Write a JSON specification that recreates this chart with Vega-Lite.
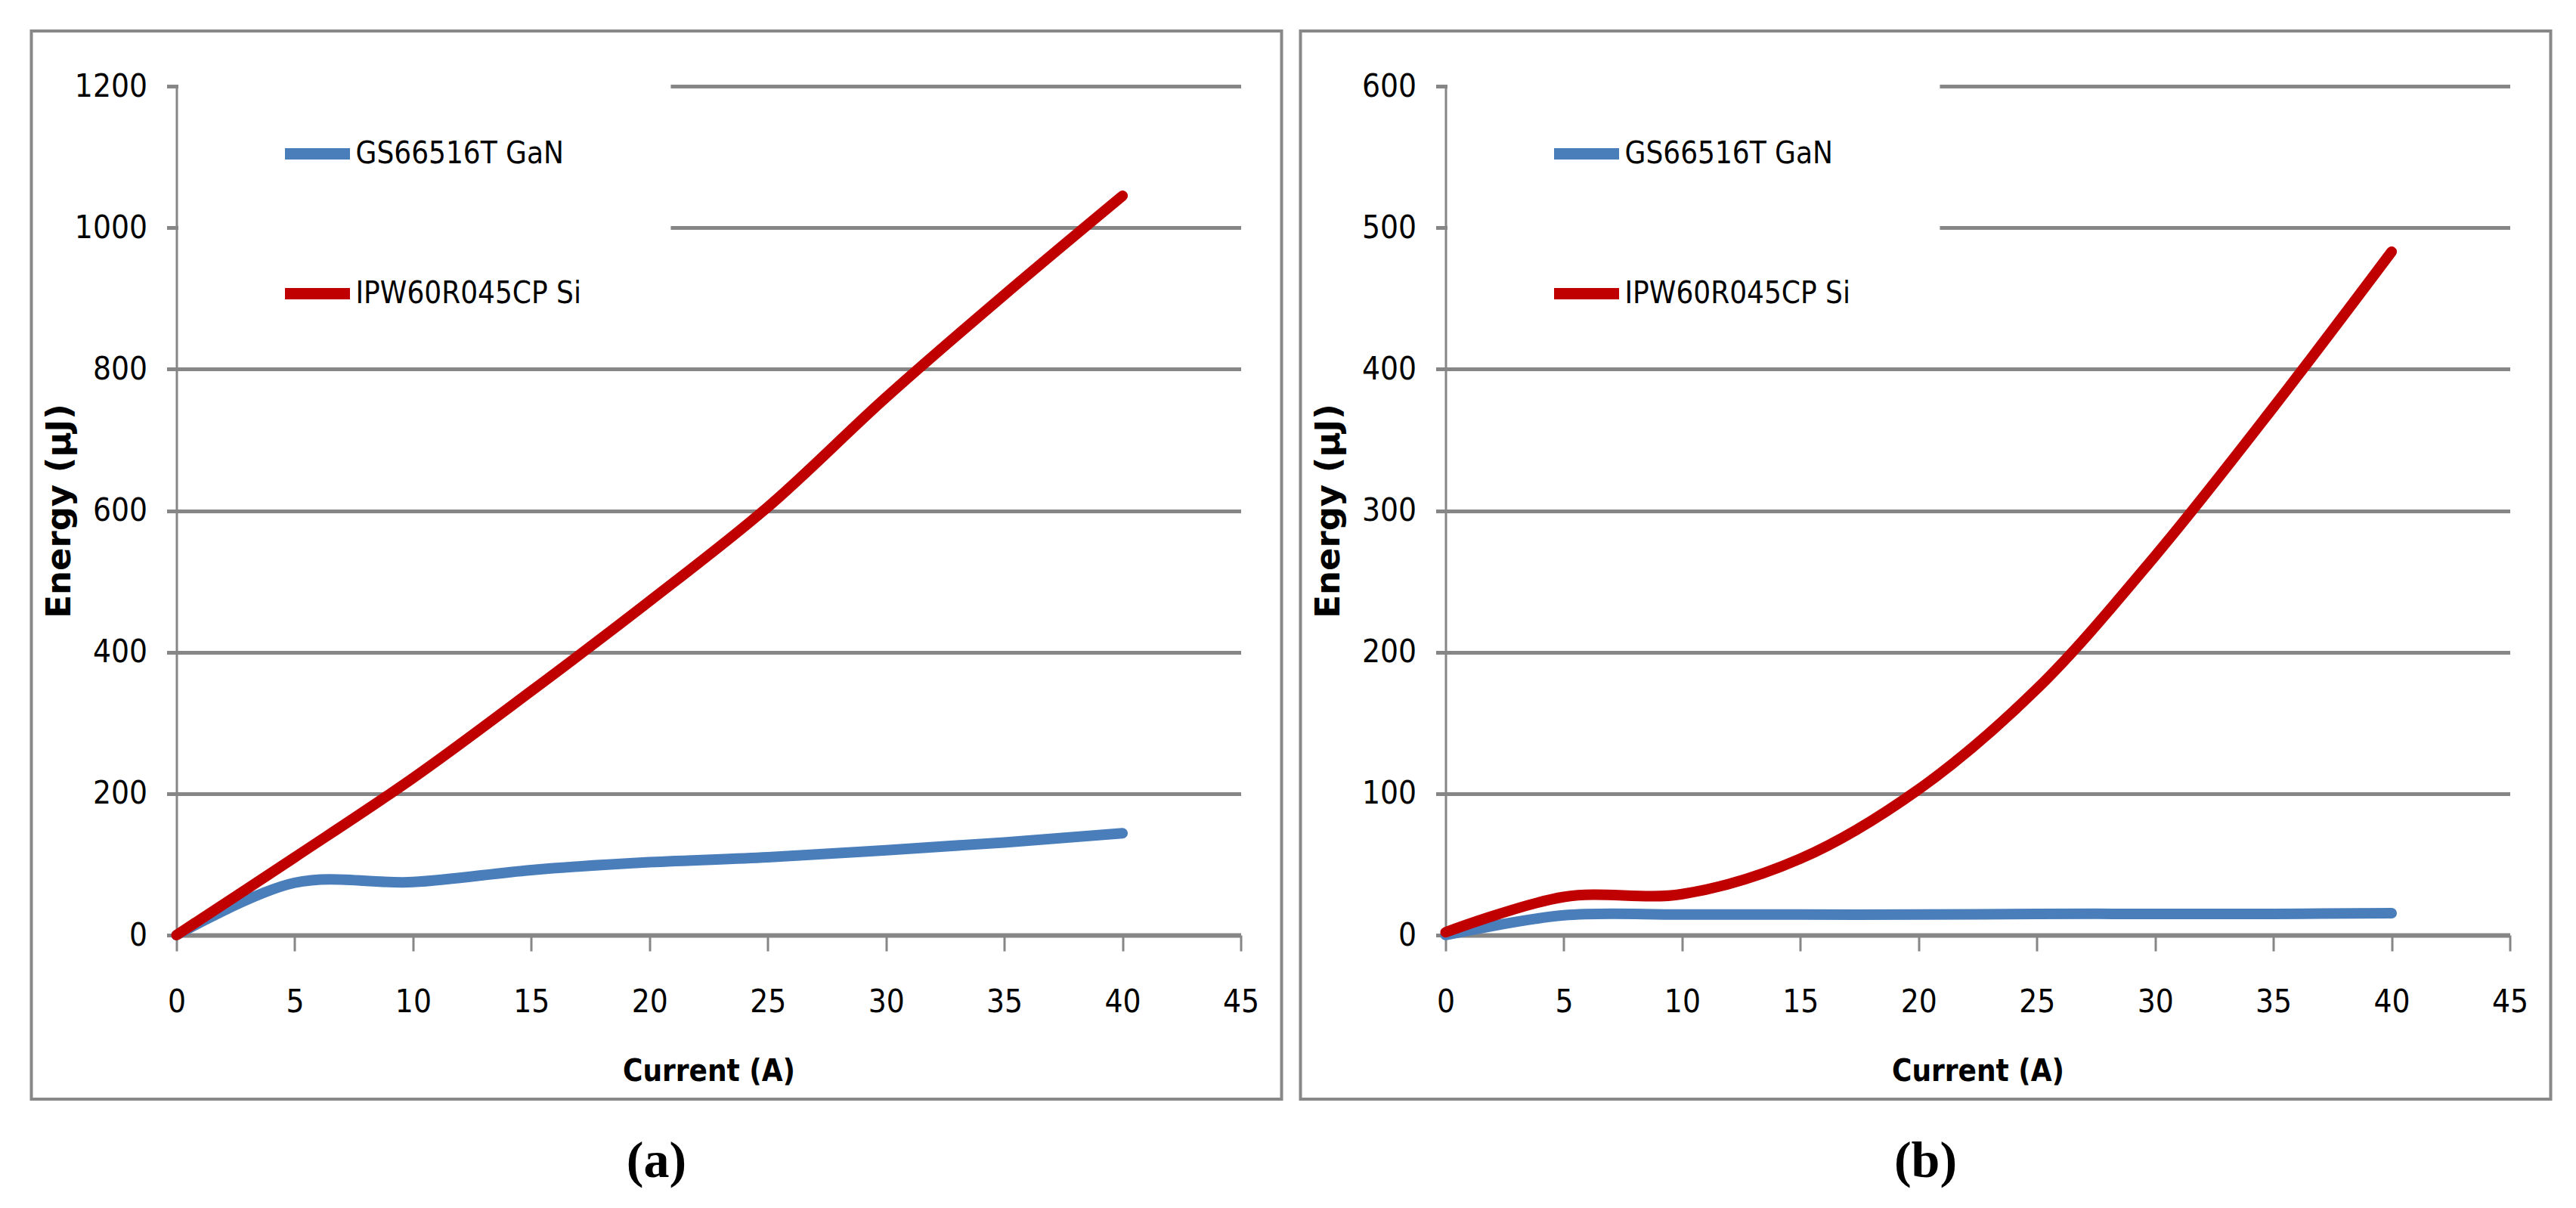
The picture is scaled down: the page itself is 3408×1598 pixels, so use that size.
{
  "$schema": "https://vega.github.io/schema/vega-lite/v6.json",
  "background": "white",
  "padding": {"left": 39.5, "top": 39, "right": 0, "bottom": 0},
  "datasets": {
    "a": [
      {"current": 0, "energy": 0, "series": "GS66516T GaN"},
      {"current": 5, "energy": 74, "series": "GS66516T GaN"},
      {"current": 10, "energy": 75, "series": "GS66516T GaN"},
      {"current": 15, "energy": 92, "series": "GS66516T GaN"},
      {"current": 20, "energy": 103, "series": "GS66516T GaN"},
      {"current": 25, "energy": 110, "series": "GS66516T GaN"},
      {"current": 30, "energy": 120, "series": "GS66516T GaN"},
      {"current": 35, "energy": 131, "series": "GS66516T GaN"},
      {"current": 40, "energy": 144, "series": "GS66516T GaN"},
      {"current": 0, "energy": 0, "series": "IPW60R045CP Si"},
      {"current": 5, "energy": 110, "series": "IPW60R045CP Si"},
      {"current": 10, "energy": 222, "series": "IPW60R045CP Si"},
      {"current": 15, "energy": 345, "series": "IPW60R045CP Si"},
      {"current": 20, "energy": 472, "series": "IPW60R045CP Si"},
      {"current": 25, "energy": 605, "series": "IPW60R045CP Si"},
      {"current": 30, "energy": 760, "series": "IPW60R045CP Si"},
      {"current": 35, "energy": 905, "series": "IPW60R045CP Si"},
      {"current": 40, "energy": 1045, "series": "IPW60R045CP Si"}
    ],
    "b": [
      {"current": 0, "energy": 0, "series": "GS66516T GaN"},
      {"current": 5, "energy": 14, "series": "GS66516T GaN"},
      {"current": 10, "energy": 14.5, "series": "GS66516T GaN"},
      {"current": 15, "energy": 14.5, "series": "GS66516T GaN"},
      {"current": 20, "energy": 14.5, "series": "GS66516T GaN"},
      {"current": 25, "energy": 15, "series": "GS66516T GaN"},
      {"current": 30, "energy": 15, "series": "GS66516T GaN"},
      {"current": 35, "energy": 15, "series": "GS66516T GaN"},
      {"current": 40, "energy": 15.5, "series": "GS66516T GaN"},
      {"current": 0, "energy": 2, "series": "IPW60R045CP Si"},
      {"current": 5, "energy": 27, "series": "IPW60R045CP Si"},
      {"current": 10, "energy": 29, "series": "IPW60R045CP Si"},
      {"current": 15, "energy": 54, "series": "IPW60R045CP Si"},
      {"current": 20, "energy": 103, "series": "IPW60R045CP Si"},
      {"current": 25, "energy": 174, "series": "IPW60R045CP Si"},
      {"current": 30, "energy": 268, "series": "IPW60R045CP Si"},
      {"current": 35, "energy": 373, "series": "IPW60R045CP Si"},
      {"current": 40, "energy": 483, "series": "IPW60R045CP Si"}
    ]
  },
  "spacing": 21,
  "hconcat": [
    {
      "width": 1654,
      "height": 1413,
      "title": {"text": "(a)"},
      "layer": [
        {
          "data": {"name": "a"},
          "mark": {"type": "line", "interpolate": "catmull-rom", "strokeWidth": 14, "strokeCap": "round"},
          "encoding": {
            "x": {
              "field": "current",
              "type": "quantitative",
              "scale": {"domain": [0, 45], "range": [192, 1600], "nice": false},
              "axis": {
                "values": [0, 5, 10, 15, 20, 25, 30, 35, 40, 45],
                "offset": -217,
                "grid": false,
                "domainWidth": 6,
                "tickSize": 21,
                "tickWidth": 3,
                "labelPadding": 80,
                "labelBaseline": "alphabetic",
                "title": "Current (A)",
                "titleFont": "DejaVu Sans Condensed, sans-serif",
                "titleFontSize": 40,
                "titleFontWeight": "bold",
                "titleBaseline": "alphabetic",
                "titleY": 192
              }
            },
            "y": {
              "field": "energy",
              "type": "quantitative",
              "scale": {"domain": [0, 1200], "range": [1196, 73], "nice": false},
              "axis": {
                "values": [0, 200, 400, 600, 800, 1000, 1200],
                "format": "d",
                "offset": -192,
                "grid": true,
                "domainWidth": 3,
                "tickSize": 13,
                "tickWidth": 5,
                "labelPadding": 26,
                "labelBaseline": "middle",
                "title": "Energy (µJ)",
                "titleFont": "DejaVu Sans",
                "titleFontSize": 45,
                "titleFontWeight": "bold",
                "titleAngle": 270,
                "titleBaseline": "alphabetic",
                "titleX": -141
              }
            },
            "color": {
              "field": "series",
              "type": "nominal",
              "title": null,
              "scale": {"domain": ["GS66516T GaN", "IPW60R045CP Si"], "range": ["#4A7EBB", "#C00000"]}
            }
          }
        },
        {
          "data": {"values": [{}]},
          "mark": {"type": "rect", "color": "white"},
          "encoding": {
            "x": {"datum": 0.08, "type": "quantitative"},
            "x2": {"datum": 20.9},
            "y": {"datum": 900, "type": "quantitative"},
            "y2": {"datum": 1240}
          }
        }
      ]
    },
    {
      "width": 1654,
      "height": 1413,
      "title": {"text": "(b)"},
      "layer": [
        {
          "data": {"name": "b"},
          "mark": {"type": "line", "interpolate": "catmull-rom", "strokeWidth": 14, "strokeCap": "round"},
          "encoding": {
            "x": {
              "field": "current",
              "type": "quantitative",
              "scale": {"domain": [0, 45], "range": [192, 1600], "nice": false},
              "axis": {
                "values": [0, 5, 10, 15, 20, 25, 30, 35, 40, 45],
                "offset": -217,
                "grid": false,
                "domainWidth": 6,
                "tickSize": 21,
                "tickWidth": 3,
                "labelPadding": 80,
                "labelBaseline": "alphabetic",
                "title": "Current (A)",
                "titleFont": "DejaVu Sans Condensed, sans-serif",
                "titleFontSize": 40,
                "titleFontWeight": "bold",
                "titleBaseline": "alphabetic",
                "titleY": 192
              }
            },
            "y": {
              "field": "energy",
              "type": "quantitative",
              "scale": {"domain": [0, 600], "range": [1196, 73], "nice": false},
              "axis": {
                "values": [0, 100, 200, 300, 400, 500, 600],
                "format": "d",
                "offset": -192,
                "grid": true,
                "domainWidth": 3,
                "tickSize": 13,
                "tickWidth": 5,
                "labelPadding": 26,
                "labelBaseline": "middle",
                "title": "Energy (µJ)",
                "titleFont": "DejaVu Sans",
                "titleFontSize": 45,
                "titleFontWeight": "bold",
                "titleAngle": 270,
                "titleBaseline": "alphabetic",
                "titleX": -141
              }
            },
            "color": {
              "field": "series",
              "type": "nominal",
              "title": null,
              "scale": {"domain": ["GS66516T GaN", "IPW60R045CP Si"], "range": ["#4A7EBB", "#C00000"]}
            }
          }
        },
        {
          "data": {"values": [{}]},
          "mark": {"type": "rect", "color": "white"},
          "encoding": {
            "x": {"datum": 0.08, "type": "quantitative"},
            "x2": {"datum": 20.9},
            "y": {"datum": 450, "type": "quantitative"},
            "y2": {"datum": 620}
          }
        }
      ]
    }
  ],
  "resolve": {
    "scale": {"x": "independent", "y": "independent", "color": "independent"},
    "legend": {"color": "independent"}
  },
  "config": {
    "view": {"stroke": "#888888", "strokeWidth": 4},
    "axis": {
      "labelFont": "DejaVu Sans Condensed, sans-serif",
      "labelFontSize": 42,
      "labelColor": "#000000",
      "labelFlush": false,
      "labelOverlap": false,
      "domainColor": "#868686",
      "tickColor": "#868686",
      "gridColor": "#868686",
      "gridWidth": 5,
      "gridOpacity": 1,
      "titleColor": "#000000"
    },
    "legend": {
      "orient": "none",
      "legendX": 328,
      "legendY": 112,
      "direction": "vertical",
      "symbolType": "stroke",
      "symbolSize": 7396,
      "symbolStrokeWidth": 15,
      "labelFont": "DejaVu Sans Condensed, sans-serif",
      "labelFontSize": 40,
      "labelColor": "#000000",
      "labelOffset": 0,
      "labelLimit": 800,
      "rowPadding": 104,
      "padding": 0
    },
    "title": {
      "orient": "bottom",
      "anchor": "middle",
      "font": "Liberation Serif, DejaVu Serif, serif",
      "fontSize": 68,
      "fontWeight": "bold",
      "color": "#000000",
      "baseline": "top",
      "offset": 49
    }
  }
}
